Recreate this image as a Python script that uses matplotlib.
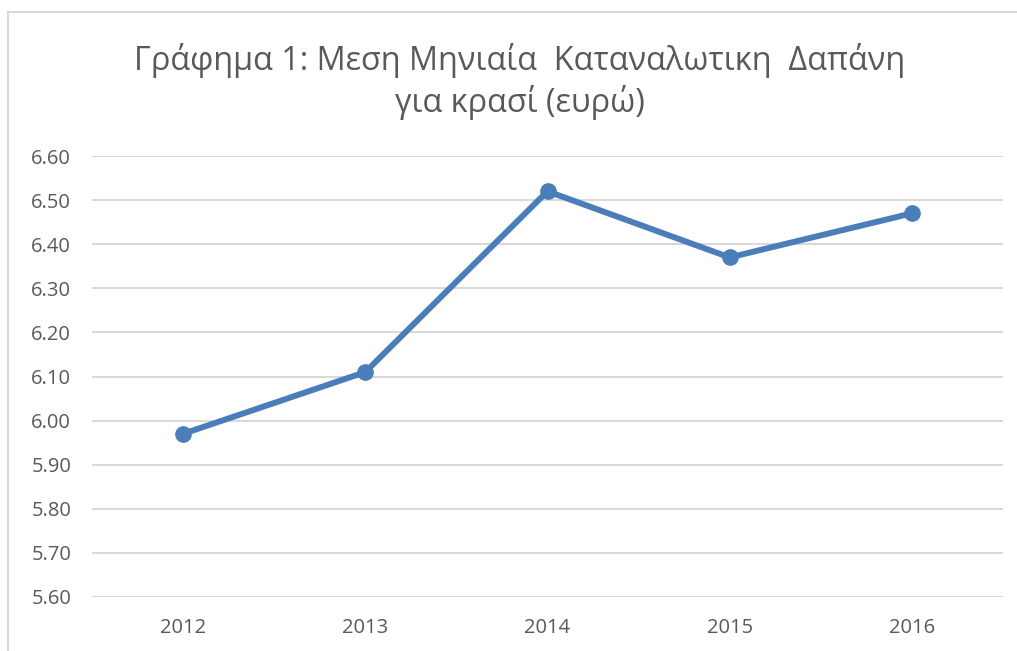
import matplotlib.pyplot as plt
from matplotlib.lines import Line2D

# Mean monthly consumer spending on wine (euro)
years = ['2012', '2013', '2014', '2015', '2016']
spending = [5.97, 6.11, 6.52, 6.37, 6.47]
y_ticks = [5.60, 5.70, 5.80, 5.90, 6.00, 6.10, 6.20, 6.30, 6.40, 6.50, 6.60]

plt.rcParams['font.family'] = ['Open Sans', 'DejaVu Sans']

fig = plt.figure(figsize=(10.17, 6.51), dpi=100)
ax = fig.add_axes([92 / 1017, 1 - 597 / 651, (1003 - 92) / 1017, (597 - 156) / 651])

x = range(len(years))
ax.plot(x, spending, color='#4A7EBB', linewidth=4.3, marker='o', markersize=11,
        solid_capstyle='round', zorder=3)

ax.set_xlim(-0.5, len(years) - 0.5)
ax.set_ylim(5.60, 6.60)
ax.set_xticks(list(x))
ax.set_xticklabels(years)
ax.set_yticks(y_ticks)
ax.set_yticklabels([f'{v:.2f}' for v in y_ticks])
ax.yaxis.grid(True, color='#D9D9D9', linewidth=1.5)
ax.set_axisbelow(True)
for s in ax.spines.values():
    s.set_visible(False)
ax.tick_params(length=0, labelsize=14.5, labelcolor='#595959')
ax.tick_params(axis='y', pad=15)
ax.tick_params(axis='x', pad=15)

fig.text(520 / 1017, 1 - 60 / 651, 'Γράφημα 1: Μεση Μηνιαία  Καταναλωτικη  Δαπάνη',
         ha='center', va='center', fontsize=23.3, color='#595959')
fig.text(520 / 1017, 1 - 103 / 651, 'για κρασί (ευρώ)',
         ha='center', va='center', fontsize=23.3, color='#595959')

# chart frame (left and top edges visible)
fig.add_artist(Line2D([8 / 1017, 8 / 1017], [0, 1 - 12 / 651], color='#D9D9D9', linewidth=1.5))
fig.add_artist(Line2D([8 / 1017, 1], [1 - 12 / 651, 1 - 12 / 651], color='#D9D9D9', linewidth=1.5))

plt.savefig('out.png', dpi=100)
